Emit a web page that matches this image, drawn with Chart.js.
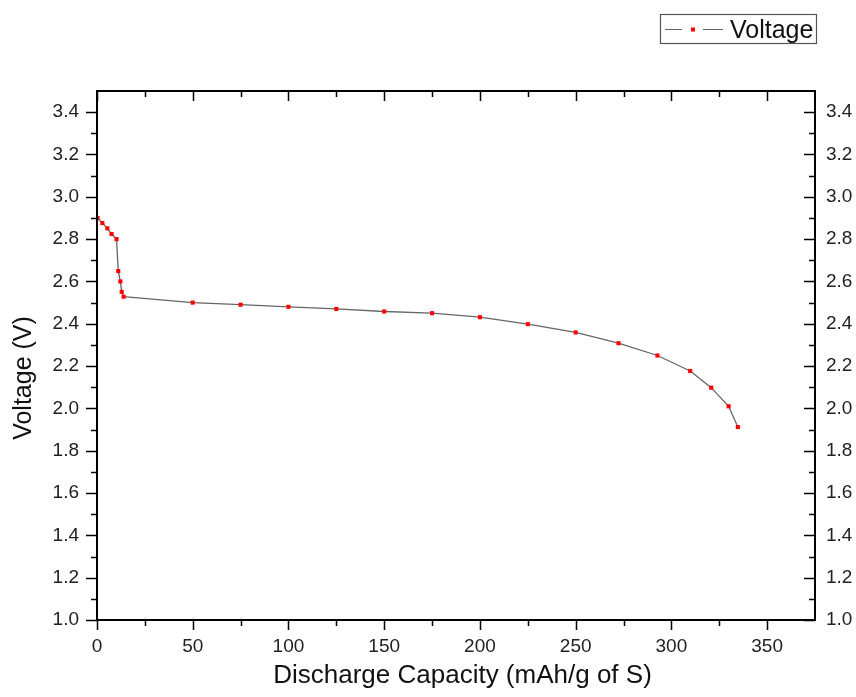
<!DOCTYPE html>
<html><head><meta charset="utf-8">
<script src="https://cdn.jsdelivr.net/npm/chart.js@4.4.1/dist/chart.umd.min.js"></script>
<style>html,body{margin:0;padding:0;background:#fff}#wrap{width:856px;height:697px;position:relative}</style>
</head><body><div id="wrap"><canvas id="c" width="856" height="697"></canvas></div>
<script>
const seriesLabel = 'Voltage';
const capacity = [0.3, 2.8, 5.4, 7.6, 10.2, 11.1, 12.2, 12.9, 13.9, 50, 75, 100, 125, 150, 175, 200, 225, 250, 272.4, 292.7, 309.8, 320.8, 329.9, 334.7];
const voltage  = [2.90, 2.876, 2.851, 2.824, 2.80, 2.649, 2.60, 2.551, 2.528, 2.50, 2.49, 2.48, 2.47, 2.458, 2.45, 2.431, 2.398, 2.359, 2.308, 2.25, 2.177, 2.098, 2.01, 1.912];
const xTitle = 'Discharge Capacity (mAh/g of S)';
const yTitle = 'Voltage (V)';
const xTickValues = [0, 50, 100, 150, 200, 250, 300, 350];
const xMinorValues = [25, 75, 125, 175, 225, 275, 325];
const yTickValues = [1.0, 1.2, 1.4, 1.6, 1.8, 2.0, 2.2, 2.4, 2.6, 2.8, 3.0, 3.2, 3.4];
const yMinorValues = [1.1, 1.3, 1.5, 1.7, 1.9, 2.1, 2.3, 2.5, 2.7, 2.9, 3.1, 3.3];

const FONT = "'Liberation Sans', Arial, sans-serif";
const tickFont = {family: FONT, size: 19};

const framePlugin = {
  id: 'frame',
  afterDraw(chart) {
    const ctx = chart.ctx;
    const {left, right, top, bottom} = chart.chartArea;
    const x = chart.scales.x, y = chart.scales.y;
    ctx.save();
    ctx.strokeStyle = '#000';
    ctx.lineWidth = 1.5;
    ctx.beginPath();
    const tick = (x1, y1, x2, y2) => { ctx.moveTo(x1, y1); ctx.lineTo(x2, y2); };
    xTickValues.forEach(v => { const p = Math.round(x.getPixelForValue(v)) + 0.5; tick(p, bottom, p, bottom + 10); tick(p, top, p, top + 10); });
    xMinorValues.forEach(v => { const p = Math.round(x.getPixelForValue(v)) + 0.5; tick(p, bottom, p, bottom + 6); tick(p, top, p, top + 6); });
    yTickValues.forEach(v => { const p = Math.round(y.getPixelForValue(v)) + 0.5; tick(left - 11, p, left, p); tick(right - 11, p, right, p); });
    yMinorValues.forEach(v => { const p = Math.round(y.getPixelForValue(v)) + 0.5; tick(left - 6, p, left, p); tick(right - 6, p, right, p); });
    ctx.stroke();
    ctx.lineWidth = 2;
    ctx.strokeRect(left, top, right - left, bottom - top);

    // axis titles
    ctx.fillStyle = '#111';
    ctx.font = '26px ' + FONT;
    ctx.textAlign = 'center';
    ctx.textBaseline = 'alphabetic';
    ctx.fillText(xTitle, (left + right) / 2 + 6.5, 683);
    ctx.save();
    ctx.font = '25px ' + FONT;
    ctx.translate(31, 378);
    ctx.rotate(-Math.PI / 2);
    ctx.fillText(yTitle, 0, 0);
    ctx.restore();

    // legend box
    const ds = chart.data.datasets[0];
    ctx.strokeStyle = '#555';
    ctx.lineWidth = 1.2;
    ctx.strokeRect(660.5, 14.5, 156, 29);
    ctx.strokeStyle = '#666';
    ctx.lineWidth = 1.2;
    ctx.beginPath();
    ctx.moveTo(665, 29.5); ctx.lineTo(682, 29.5);
    ctx.moveTo(703, 29.5); ctx.lineTo(723, 29.5);
    ctx.stroke();
    ctx.fillStyle = '#ff0000';
    ctx.fillRect(691, 27.5, 4, 4);
    ctx.fillStyle = '#111';
    ctx.textAlign = 'left';
    ctx.font = '25px ' + FONT;
    ctx.fillText(ds.label, 730, 38);
    ctx.restore();
  }
};

new Chart(document.getElementById('c'), {
  type: 'scatter',
  data: {
    datasets: [{
      label: seriesLabel,
      data: capacity.map((c, i) => ({x: c, y: voltage[i]})),
      showLine: true,
      borderColor: '#666',
      borderWidth: 1.3,
      pointStyle: 'rect',
      pointRadius: 2.9,
      pointBackgroundColor: '#ff0000',
      pointBorderColor: '#ff0000',
      pointBorderWidth: 0,
      tension: 0
    }]
  },
  options: {
    responsive: false,
    animation: false,
    layout: {padding: {top: 91, left: 0, right: 0, bottom: 0}},
    plugins: {legend: {display: false}, tooltip: {enabled: false}},
    scales: {
      x: {
        type: 'linear', position: 'bottom', min: 0, max: 375,
        afterBuildTicks: s => { s.ticks = xTickValues.map(v => ({value: v})); },
        afterFit: s => { s.height = 77; },
        grid: {display: false, drawTicks: false},
        border: {display: false},
        ticks: {font: tickFont, color: '#222', padding: 15, maxRotation: 0, callback: v => String(v)}
      },
      y: {
        type: 'linear', position: 'left', min: 1.0, max: 3.5,
        afterBuildTicks: s => { s.ticks = yTickValues.map(v => ({value: v})); },
        afterFit: s => { s.width = 97; },
        grid: {display: false, drawTicks: false},
        border: {display: false},
        ticks: {font: tickFont, color: '#222', padding: 18, callback: v => Number(v).toFixed(1)}
      },
      y2: {
        type: 'linear', position: 'right', min: 1.0, max: 3.5,
        afterBuildTicks: s => { s.ticks = yTickValues.map(v => ({value: v})); },
        afterFit: s => { s.width = 41; },
        grid: {display: false, drawTicks: false},
        border: {display: false},
        ticks: {font: tickFont, color: '#222', padding: 11, callback: v => Number(v).toFixed(1)}
      }
    }
  },
  plugins: [framePlugin]
});
</script>
</body></html>
